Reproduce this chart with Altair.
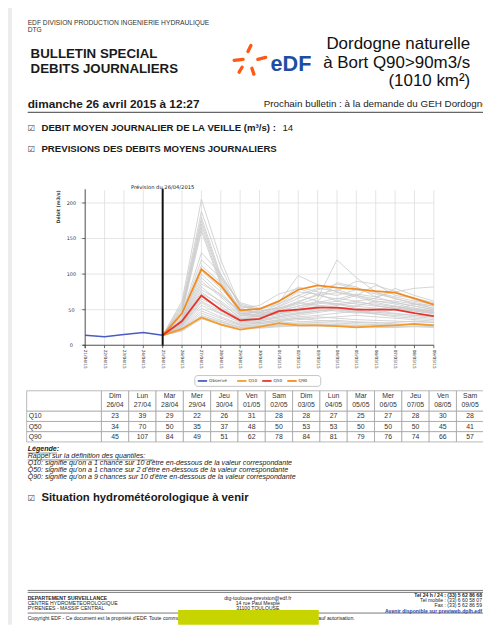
import altair as alt
import pandas as pd

# ---------------- data ----------------
dates = ["21/04/15", "22/04/15", "23/04/15", "24/04/15", "25/04/15", "26/04/15",
         "27/04/15", "28/04/15", "29/04/15", "30/04/15", "01/05/15", "02/05/15",
         "03/05/15", "04/05/15", "05/05/15", "06/05/15", "07/05/15", "08/05/15",
         "09/05/15"]
observed = [14, 12, 15, 18, 14]
q10 = [23, 39, 29, 22, 26, 31, 28, 28, 27, 25, 27, 28, 30, 28]
q50 = [34, 70, 50, 35, 37, 48, 50, 53, 53, 50, 50, 50, 45, 41]
q90 = [45, 107, 84, 49, 51, 62, 78, 84, 81, 79, 76, 74, 66, 57]
members = [
    [62, 205, 120, 55, 48, 52, 60, 72, 78, 70, 62, 58, 52, 48],
    [58, 188, 110, 52, 45, 50, 58, 66, 120, 95, 75, 65, 60, 55],
    [55, 180, 98, 58, 50, 62, 82, 75, 70, 78, 72, 66, 58, 52],
    [52, 175, 95, 50, 44, 48, 55, 62, 88, 82, 68, 60, 55, 50],
    [50, 170, 92, 47, 42, 46, 52, 58, 62, 70, 84, 76, 64, 56],
    [48, 165, 88, 45, 40, 44, 50, 55, 58, 62, 66, 80, 70, 62],
    [45, 160, 85, 44, 42, 55, 70, 62, 58, 55, 52, 50, 48, 45],
    [42, 120, 95, 60, 52, 60, 98, 85, 75, 70, 65, 62, 58, 55],
    [40, 112, 88, 52, 56, 72, 80, 70, 65, 72, 68, 75, 80, 82],
    [38, 100, 75, 45, 42, 48, 55, 60, 58, 52, 48, 45, 42, 40],
    [36, 95, 70, 48, 45, 58, 75, 72, 62, 58, 55, 52, 50, 46],
    [35, 90, 68, 42, 40, 44, 48, 52, 56, 60, 58, 54, 50, 47],
    [34, 86, 72, 44, 48, 52, 62, 70, 74, 68, 60, 55, 52, 48],
    [33, 82, 60, 38, 36, 40, 45, 48, 52, 55, 62, 60, 55, 50],
    [32, 78, 62, 42, 40, 50, 60, 56, 50, 46, 44, 42, 40, 38],
    [31, 75, 55, 36, 34, 38, 42, 46, 50, 48, 45, 50, 58, 52],
    [30, 72, 58, 40, 38, 45, 52, 60, 66, 62, 56, 52, 48, 44],
    [30, 68, 50, 34, 32, 36, 40, 42, 45, 48, 44, 40, 38, 36],
    [29, 65, 52, 38, 36, 42, 46, 50, 48, 45, 50, 55, 50, 45],
    [28, 62, 48, 33, 32, 35, 38, 40, 38, 36, 35, 34, 33, 32],
    [27, 60, 45, 35, 34, 40, 44, 48, 52, 50, 46, 44, 42, 40],
    [26, 56, 44, 32, 30, 33, 36, 38, 40, 42, 40, 38, 36, 34],
    [25, 52, 40, 30, 30, 34, 38, 35, 33, 32, 31, 32, 34, 32],
    [24, 48, 38, 29, 28, 31, 33, 34, 35, 33, 32, 30, 29, 28],
    [23, 45, 35, 28, 27, 29, 31, 32, 31, 30, 29, 29, 30, 29],
    [22, 42, 33, 26, 26, 28, 30, 30, 29, 28, 27, 28, 29, 27],
    [21, 40, 32, 25, 25, 27, 28, 29, 28, 27, 26, 26, 27, 26],
    [20, 37, 30, 24, 24, 26, 27, 27, 27, 26, 25, 25, 26, 25],
    [36, 105, 80, 50, 46, 54, 66, 78, 86, 80, 74, 68, 62, 58],
    [44, 130, 100, 56, 50, 58, 70, 80, 76, 90, 86, 70, 66, 60],
]
y_ticks = [0, 50, 100, 150, 200]
series_names = ["Observé", "Q10", "Q50", "Q90"]
series_colors = ["#4a5bc4", "#f59a2f", "#e8332b", "#f28a1e"]
table_days = ["Dim", "Lun", "Mar", "Mer", "Jeu", "Ven", "Sam",
              "Dim", "Lun", "Mar", "Mer", "Jeu", "Ven", "Sam"]
table_dates = ["26/04", "27/04", "28/04", "29/04", "30/04", "01/05", "02/05",
               "03/05", "04/05", "05/05", "06/05", "07/05", "08/05", "09/05"]
veille = 14

# ---------------- layout helpers ----------------
OFF = 8
W, H = 483, 622
DOC = "Liberation Sans"
SMALL = "DejaVu Sans"


def P(v):
    return v - OFF


def T(rows, **kw):
    df = pd.DataFrame(rows, columns=["x", "y", "t"])
    df["x"] = df["x"] - OFF
    df["y"] = df["y"] - OFF
    kw.setdefault("font", DOC)
    kw.setdefault("align", "left")
    kw.setdefault("baseline", "middle")
    kw.setdefault("color", "#222222")
    return alt.Chart(df).mark_text(**kw).encode(
        x=alt.X("x:Q", scale=None, axis=None),
        y=alt.Y("y:Q", scale=None, axis=None),
        text="t:N",
    )


ONE = pd.DataFrame({"a": [0]})


def R(x1, y1, x2, y2, **kw):
    return alt.Chart(ONE).mark_rule(**kw).encode(
        x=alt.value(P(x1)), y=alt.value(P(y1)),
        x2=alt.value(P(x2)), y2=alt.value(P(y2)))


def BOX(x1, y1, x2, y2, **kw):
    return alt.Chart(ONE).mark_rect(**kw).encode(
        x=alt.value(P(x1)), y=alt.value(P(y1)),
        x2=alt.value(P(x2)), y2=alt.value(P(y2)))


layers = []

# page edge band
layers.append(BOX(8, 0, 12, 630, color="#ececec"))

# ---------------- header ----------------
layers.append(T([(28, 18.5, "EDF DIVISION PRODUCTION INGENIERIE HYDRAULIQUE"),
                 (28, 25.5, "DTG")], fontSize=6.8, color="#333333"))
layers.append(T([(31, 50, "BULLETIN SPECIAL"), (31, 65, "DEBITS JOURNALIERS")],
                fontSize=13.5, fontWeight="bold", color="#1a1a1a"))
# EDF logo petals
logo = "#fe5815"
layers.append(R(252, 47, 255, 41, color=logo, strokeWidth=3.4, strokeCap="round"))
layers.append(R(238, 56, 247, 55, color=logo, strokeWidth=3.4, strokeCap="round"))
layers.append(R(262, 55, 270, 53, color=logo, strokeWidth=3.4, strokeCap="round"))
layers.append(R(246, 63, 243, 68, color=logo, strokeWidth=3.4, strokeCap="round"))
layers.append(R(256, 64, 258, 70, color=logo, strokeWidth=3.4, strokeCap="round"))
layers.append(T([(275, 59.5, "eDF")], fontSize=22, fontWeight="bold", color="#1d4ea3"))
layers.append(T([(478, 39, "Dordogne naturelle"), (478, 59, "à Bort Q90>90m3/s"),
                 (478, 77, "(1010 km²)")],
                fontSize=17.2, align="right", color="#111111"))

layers.append(T([(28, 100, "dimanche 26 avril 2015 à 12:27")],
                fontSize=12, fontWeight="bold", color="#1a1a1a"))
layers.append(T([(268, 100, "Prochain bulletin : à la demande du GEH Dordogne")],
                fontSize=10, color="#222222"))
layers.append(R(28, 109, 495, 109, color="#666666", strokeWidth=1.3))

layers.append(T([(28, 125, "☑"), (28, 146, "☑"), (28, 501, "☑")],
                font=SMALL, fontSize=8.5, color="#444444"))
layers.append(T([(42, 125, "DEBIT MOYEN JOURNALIER DE LA VEILLE (m³/s) :"),
                 (42, 146, "PREVISIONS DES DEBITS MOYENS JOURNALIERS")],
                fontSize=9.8, fontWeight="bold", color="#1a1a1a"))
layers.append(T([(287, 125, f"{veille}")], fontSize=9.8, color="#1a1a1a"))

# ---------------- main chart ----------------
X_MAIN = alt.Scale(domain=[0, len(dates) - 1], range=[P(86.5), P(441)], nice=False, zero=False)
Y_MAIN = alt.Scale(domain=[0, 200], range=[P(345.7), P(201)], nice=False, zero=False)
TOP, BOT = 188, 345.7

days_df = pd.DataFrame({"i": list(range(len(dates))), "d": dates})
yt_df = pd.DataFrame({"v": y_ticks})
xi = alt.X("i:Q", scale=X_MAIN, axis=None)
yv = alt.Y("v:Q", scale=Y_MAIN, axis=None)

layers.append(alt.Chart(yt_df).mark_rule(color="#dedede", strokeWidth=0.8).encode(
    y=yv, x=alt.value(P(81)), x2=alt.value(P(441))))
layers.append(alt.Chart(days_df).mark_rule(color="#dedede", strokeWidth=0.8).encode(
    x=xi, y=alt.value(P(TOP)), y2=alt.value(P(BOT))))

f0 = len(observed) - 1
mem_rows = []
for m, vals in enumerate(members):
    for k, v in enumerate([observed[-1]] + vals):
        mem_rows.append({"m": m, "i": f0 + k, "v": v})
mem_df = pd.DataFrame(mem_rows)
layers.append(alt.Chart(mem_df).mark_line(color="#c9c9c9", strokeWidth=0.8).encode(
    x=xi, y=yv, detail="m:N", order="i:Q"))

obs_df = pd.DataFrame({"i": list(range(len(observed))), "v": observed})
layers.append(alt.Chart(obs_df).mark_line(color=series_colors[0], strokeWidth=1.6).encode(
    x=xi, y=yv, order="i:Q"))

q_rows = []
for name, arr in zip(series_names[1:], [q10, q50, q90]):
    for k, v in enumerate([observed[-1]] + arr):
        q_rows.append({"q": name, "i": f0 + k, "v": v})
q_df = pd.DataFrame(q_rows)
for name in ["Q10", "Q90", "Q50"]:
    col = series_colors[series_names.index(name)]
    layers.append(alt.Chart(q_df[q_df.q == name]).mark_line(color=col, strokeWidth=1.8).encode(
        x=xi, y=yv, order="i:Q"))

# forecast issue line
layers.append(alt.Chart(pd.DataFrame({"i": [f0]})).mark_rule(color="#111111", strokeWidth=2).encode(
    x=xi, y=alt.value(P(186.5)), y2=alt.value(P(BOT + 1))))
layers.append(alt.Chart(pd.DataFrame({"i": [f0]})).mark_text(
    text="Prévision du 26/04/2015", font=SMALL, fontSize=5.3, color="#222222",
    baseline="middle").encode(x=xi, y=alt.value(P(184.5))))

# axes
layers.append(R(86.5, TOP - 1, 86.5, BOT + 3, color="#444444", strokeWidth=0.9))
layers.append(R(84, BOT, 441, BOT, color="#444444", strokeWidth=0.9))
layers.append(alt.Chart(days_df).mark_rule(color="#444444", strokeWidth=0.8).encode(
    x=xi, y=alt.value(P(BOT)), y2=alt.value(P(BOT + 3))))
layers.append(alt.Chart(yt_df).mark_rule(color="#444444", strokeWidth=0.8).encode(
    y=yv, x=alt.value(P(83.5)), x2=alt.value(P(86.5))))
layers.append(alt.Chart(days_df).mark_text(
    font=SMALL, fontSize=4.3, angle=90, align="left", baseline="middle", color="#333333").encode(
    x=xi, y=alt.value(P(BOT + 4.5)), text="d:N"))
layers.append(alt.Chart(yt_df).mark_text(
    font=SMALL, fontSize=5, align="center", baseline="middle", color="#333333").encode(
    y=yv, x=alt.value(P(72.5)), text="v:Q"))
layers.append(T([(60, 205, "Débit (m3/s)")], font=SMALL, fontSize=4.8, angle=270,
                align="center", fontWeight="bold", color="#333333"))

# legend
layers.append(BOX(198, 376.5, 326, 387.5, fill="white", stroke="#b5b5b5", strokeWidth=0.8,
                  cornerRadius=3))
leg_x = [201, 241, 266.5, 292]
for name, col, lx in zip(series_names, series_colors, leg_x):
    layers.append(R(lx, 382, lx + 9.5, 382, color=col, strokeWidth=1.8))
    layers.append(T([(lx + 11.5, 382, name)], font=SMALL, fontSize=4.3, color="#333333"))

# ---------------- table ----------------
T_LEFT, T_C0, T_CW, T_TOP, T_BOT = 27, 103, 27.77, 392, 444
lab_left = -(T_C0 - T_LEFT) / T_CW
TX = alt.Scale(domain=[lab_left, len(table_dates)],
               range=[P(T_LEFT), P(T_C0 + T_CW * len(table_dates))], nice=False, zero=False)
TY = alt.Scale(domain=[0, 5], range=[P(T_TOP), P(T_BOT)], nice=False, zero=False)

cells = []
rows_def = [("hdr", 0, 2), ("Q10", 2, 3), ("Q50", 3, 4), ("Q90", 4, 5)]
for rname, r0, r1 in rows_def:
    cells.append({"c0": lab_left, "c1": 0, "r0": r0, "r1": r1})
    for c in range(len(table_dates)):
        cells.append({"c0": c, "c1": c + 1, "r0": r0, "r1": r1})
cells_df = pd.DataFrame(cells)
layers.append(alt.Chart(cells_df).mark_rect(fill="white", stroke="#9a9a9a", strokeWidth=0.7).encode(
    x=alt.X("c0:Q", scale=TX, axis=None), x2="c1:Q",
    y=alt.Y("r0:Q", scale=TY, axis=None), y2="r1:Q"))

hdr_df = pd.DataFrame({"c": [c + 0.5 for c in range(len(table_dates))],
                       "day": table_days, "date": table_dates})
layers.append(alt.Chart(hdr_df).mark_text(font=DOC, fontSize=7, color="#333333",
                                          baseline="middle").encode(
    x=alt.X("c:Q", scale=TX, axis=None), y=alt.value(P(397.5)), text="day:N"))
layers.append(alt.Chart(hdr_df).mark_text(font=DOC, fontSize=7, color="#333333",
                                          baseline="middle").encode(
    x=alt.X("c:Q", scale=TX, axis=None), y=alt.value(P(406)), text="date:N"))

val_rows = []
for rname, r0, r1 in rows_def[1:]:
    arr = {"Q10": q10, "Q50": q50, "Q90": q90}[rname]
    for c, v in enumerate(arr):
        val_rows.append({"c": c + 0.5, "r": (r0 + r1) / 2, "t": str(v), "lab": False})
    val_rows.append({"c": lab_left, "r": (r0 + r1) / 2, "t": rname, "lab": True})
val_df = pd.DataFrame(val_rows)
layers.append(alt.Chart(val_df[~val_df.lab]).mark_text(
    font=DOC, fontSize=7, color="#333333", baseline="middle").encode(
    x=alt.X("c:Q", scale=TX, axis=None), y=alt.Y("r:Q", scale=TY, axis=None), text="t:N"))
layers.append(alt.Chart(val_df[val_df.lab]).mark_text(
    font=DOC, fontSize=7, color="#333333", baseline="middle", align="left", dx=2).encode(
    x=alt.X("c:Q", scale=TX, axis=None), y=alt.Y("r:Q", scale=TY, axis=None), text="t:N"))

# legend text under table
layers.append(T([(28, 451.5, "Légende:")], fontSize=7.2, fontWeight="bold",
                fontStyle="italic", color="#222222"))
layers.append(R(28, 455.3, 58, 455.3, color="#222222", strokeWidth=0.5))
layers.append(T([(28, 458.5, "Rappel sur la définition des quantiles:"),
                 (28, 465.5, "Q10: signifie qu'on a 1 chance sur 10 d'être en-dessous de la valeur correspondante"),
                 (28, 472.5, "Q50: signifie qu'on a 1 chance sur 2 d'être en-dessous de la valeur correspondante"),
                 (28, 479.5, "Q90: signifie qu'on a 9 chances sur 10 d'être en-dessous de la valeur correspondante")],
                fontSize=7.2, fontStyle="italic", color="#222222"))
layers.append(R(28, 462.3, 156, 462.3, color="#222222", strokeWidth=0.5))

layers.append(T([(42, 501, "Situation hydrométéorologique à venir")],
                fontSize=11.5, fontWeight="bold", color="#1a1a1a"))

# ---------------- footer ----------------
layers.append(R(28, 595, 495, 595, color="#555555", strokeWidth=0.8))
layers.append(R(28, 597, 495, 597, color="#555555", strokeWidth=0.8))
layers.append(T([(28, 602.5, "DEPARTEMENT SURVEILLANCE")], fontSize=5.2, fontWeight="bold",
                color="#222222"))
layers.append(T([(28, 608, "CENTRE HYDROMETEOROLOGIQUE"), (28, 613, "PYRENEES - MASSIF CENTRAL")],
                fontSize=5.2, color="#222222"))
layers.append(T([(262, 602.5, "dtg-toulouse-prevision@edf.fr"), (262, 608, "14 rue Paul Mesplé"),
                 (262, 613, "31100 TOULOUSE")], fontSize=5.2, align="center", color="#222222"))
layers.append(T([(490, 599.5, "Tel 24 h / 24 : (33) 5 62 86 68")], fontSize=5.2,
                fontWeight="bold", align="right", color="#222222"))
layers.append(T([(490, 604.5, "Tel mobile : (33) 6 60 58 07"), (490, 610, "Fax : (33) 5 62 86 59")],
                fontSize=5.2, align="right", color="#222222"))
layers.append(T([(490, 615.5, "Avenir disponible sur previweb.dplh.edf")], fontSize=5.2,
                fontWeight="bold", align="right", color="#1f3fae"))
layers.append(R(28, 618, 495, 618, color="#555555", strokeWidth=0.8))
layers.append(T([(28, 623, "Copyright EDF - Ce document est la propriété d'EDF. Toute communication")],
                fontSize=5.2, color="#222222"))
layers.append(T([(321, 623, "sauf autorisation.")], fontSize=5.2, color="#222222"))
layers.append(BOX(181, 615, 324, 630, color="#c8d400"))

chart = alt.layer(*layers).resolve_scale(x="independent", y="independent").properties(
    width=W, height=H, padding=0,
    autosize=alt.AutoSizeParams(type="none"),
    background="white",
).configure_view(stroke=None)

chart.save("out.html", embed_options={"renderer": "svg", "actions": False})
